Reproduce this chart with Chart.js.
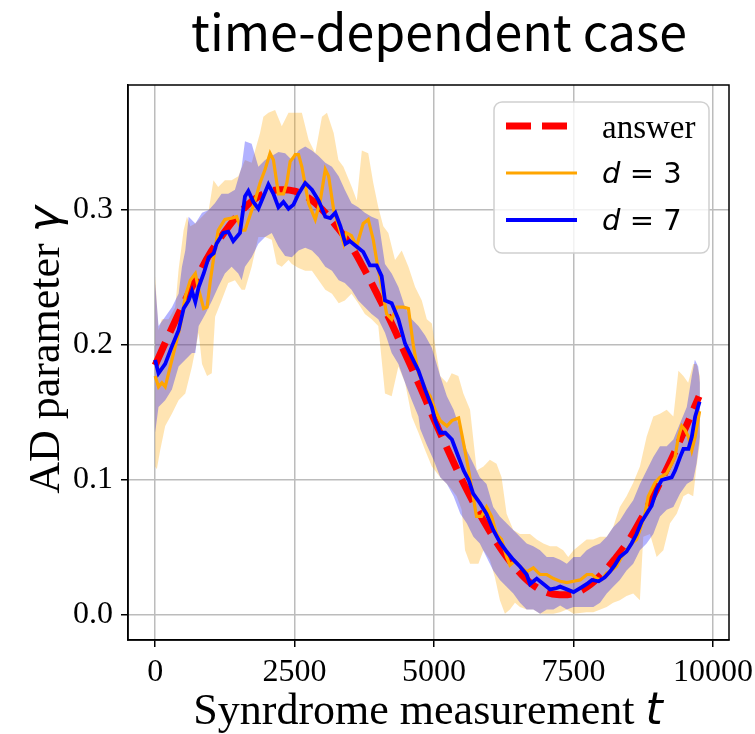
<!DOCTYPE html>
<html lang="en">
<head>
  <meta charset="UTF-8">
  <title>time-dependent case</title>
  <script src="https://cdn.jsdelivr.net/npm/chart.js"></script>
  <style>
    html, body { margin: 0; padding: 0; background: #fff; }
    #wrap { width: 755px; height: 734px; }
  </style>
</head>
<body>
  <div id="wrap"><canvas id="chart" width="755" height="734"></canvas></div>

  <script>
    // ---- data ----
    const xTicks = [0, 2500, 5000, 7500, 10000];
    const yTicks = [0.0, 0.1, 0.2, 0.3];

    // answer (red dashed)
    const tAnswer = [0, 250, 500, 750, 1000, 1250, 1500, 1750, 2000, 2250, 2500, 2750, 3000, 3250, 3500, 3750,
      4000, 4250, 4500, 4750, 5000, 5250, 5500, 5750, 6000, 6250, 6500, 6750, 7000, 7250, 7500, 7750,
      8000, 8250, 8500, 8750, 9000, 9250, 9500, 9750];
    const gAnswer = [0.185, 0.208, 0.230, 0.250, 0.269, 0.284, 0.297, 0.307, 0.313, 0.315, 0.314, 0.309, 0.300, 0.288, 0.274, 0.256,
      0.236, 0.215, 0.192, 0.169, 0.145, 0.122, 0.100, 0.080, 0.062, 0.046, 0.033, 0.023, 0.017, 0.015, 0.016, 0.021,
      0.030, 0.042, 0.056, 0.074, 0.094, 0.115, 0.138, 0.162];

    // d = 3 (orange)
    const tD3 = [0, 60, 120, 180, 270, 360, 450, 540, 630, 720, 780, 870, 930, 990, 1050, 1130, 1250, 1370, 1460, 1550,
      1610, 1700, 1790, 1880, 1970, 2060, 2120, 2210, 2300, 2360, 2420, 2480, 2510, 2570, 2630, 2750, 2870, 2960, 3050, 3110,
      3200, 3290, 3380, 3430, 3520, 3610, 3730, 3820, 3910, 3970, 4060, 4150, 4240, 4330, 4450, 4540, 4630, 4720, 4840, 4930,
      5020, 5110, 5230, 5320, 5440, 5530, 5620, 5700, 5760, 5850, 5940, 6030, 6120, 6210, 6300, 6360, 6450, 6540, 6660, 6780,
      6900, 7020, 7140, 7260, 7380, 7500, 7620, 7740, 7830, 7920, 8000, 8090, 8180, 8270, 8360, 8450, 8540, 8630, 8690, 8780,
      8840, 8900, 8960, 9050, 9170, 9260, 9320, 9380, 9440, 9500, 9560, 9620, 9680, 9760];
    const gD3 = [0.177, 0.169, 0.172, 0.169, 0.184, 0.199, 0.214, 0.236, 0.248, 0.253, 0.241, 0.227, 0.228, 0.248, 0.265, 0.285, 0.293, 0.294, 0.295, 0.285,
      0.285, 0.296, 0.307, 0.320, 0.330, 0.342, 0.337, 0.312, 0.312, 0.320, 0.336, 0.339, 0.341, 0.341, 0.332, 0.305, 0.293, 0.307, 0.330, 0.325,
      0.300, 0.288, 0.275, 0.283, 0.281, 0.273, 0.290, 0.293, 0.278, 0.263, 0.243, 0.223, 0.219, 0.228, 0.228, 0.227, 0.199, 0.179, 0.168, 0.162,
      0.152, 0.144, 0.140, 0.144, 0.146, 0.127, 0.107, 0.088, 0.073, 0.073, 0.080, 0.073, 0.060, 0.056, 0.043, 0.037, 0.040, 0.036, 0.032, 0.035,
      0.030, 0.030, 0.027, 0.025, 0.024, 0.025, 0.026, 0.030, 0.030, 0.027, 0.026, 0.031, 0.033, 0.036, 0.043, 0.048, 0.053, 0.056, 0.063, 0.075,
      0.088, 0.093, 0.098, 0.102, 0.105, 0.112, 0.117, 0.132, 0.140, 0.137, 0.132, 0.122, 0.132, 0.151];

    // d = 7 (blue)
    const tD7 = [0, 60, 180, 300, 420, 510, 600, 660, 720, 780, 870, 960, 1050, 1100, 1220, 1310, 1400, 1520, 1610, 1670,
      1760, 1850, 1940, 2030, 2120, 2210, 2300, 2390, 2480, 2570, 2690, 2810, 2930, 3050, 3140, 3230, 3320, 3410, 3490, 3610,
      3730, 3850, 3970, 4060, 4120, 4240, 4360, 4480, 4600, 4720, 4840, 4960, 5020, 5110, 5200, 5320, 5410, 5530, 5620, 5700,
      5820, 5940, 6060, 6180, 6300, 6420, 6540, 6660, 6720, 6840, 6960, 7080, 7200, 7260, 7380, 7500, 7620, 7740, 7830, 7950,
      8060, 8150, 8240, 8330, 8450, 8540, 8630, 8720, 8810, 8900, 8990, 9080, 9170, 9260, 9320, 9410, 9470, 9560, 9620, 9680, 9760];
    const gD7 = [0.189, 0.179, 0.186, 0.199, 0.211, 0.227, 0.233, 0.240, 0.232, 0.243, 0.253, 0.265, 0.268, 0.275, 0.283, 0.284, 0.277, 0.283, 0.310, 0.314,
      0.306, 0.301, 0.310, 0.319, 0.312, 0.302, 0.306, 0.301, 0.304, 0.312, 0.320, 0.315, 0.307, 0.295, 0.294, 0.298, 0.288, 0.275, 0.277, 0.273,
      0.269, 0.259, 0.259, 0.251, 0.233, 0.231, 0.219, 0.201, 0.191, 0.181, 0.167, 0.154, 0.144, 0.135, 0.135, 0.130, 0.120, 0.107, 0.100, 0.090,
      0.083, 0.075, 0.063, 0.054, 0.047, 0.041, 0.036, 0.030, 0.023, 0.027, 0.023, 0.019, 0.020, 0.021, 0.019, 0.017, 0.020, 0.023, 0.026, 0.025,
      0.028, 0.032, 0.037, 0.043, 0.047, 0.053, 0.060, 0.069, 0.075, 0.081, 0.093, 0.100, 0.101, 0.102, 0.107, 0.117, 0.123, 0.123, 0.132, 0.147, 0.158];

    // d = 3 band (light orange)
    const tD3Hi = [0, 60, 120, 240, 360, 420, 510, 570, 630, 720, 840, 960, 1045, 1130, 1250, 1370, 1490, 1610, 1730, 1880,
      1940, 2030, 2150, 2270, 2390, 2450, 2630, 2750, 2870, 2990, 3080, 3200, 3285, 3375, 3525, 3615, 3705, 3820, 3910, 4000,
      4090, 4180, 4300, 4420, 4540, 4660, 4780, 4870, 4960, 5020, 5110, 5230, 5315, 5435, 5525, 5645, 5765, 5885, 6000, 6120,
      6210, 6300, 6420, 6540, 6720, 6840, 6960, 7080, 7200, 7315, 7405, 7500, 7735, 7855, 7975, 8095, 8210, 8330, 8450, 8570,
      8690, 8810, 8930, 9050, 9170, 9290, 9380, 9470, 9555, 9645, 9705, 9765];
    const gD3Hi = [0.251, 0.211, 0.219, 0.219, 0.228, 0.256, 0.285, 0.295, 0.288, 0.290, 0.295, 0.300, 0.322, 0.317, 0.322, 0.322, 0.325, 0.337, 0.335, 0.357,
      0.369, 0.372, 0.374, 0.362, 0.372, 0.372, 0.372, 0.352, 0.342, 0.369, 0.372, 0.357, 0.337, 0.332, 0.317, 0.307, 0.344, 0.342, 0.320, 0.302,
      0.288, 0.283, 0.263, 0.270, 0.258, 0.243, 0.233, 0.219, 0.216, 0.199, 0.177, 0.172, 0.179, 0.177, 0.164, 0.152, 0.107, 0.110, 0.115, 0.112,
      0.102, 0.075, 0.063, 0.060, 0.060, 0.056, 0.053, 0.051, 0.051, 0.048, 0.043, 0.048, 0.056, 0.056, 0.058, 0.058, 0.065, 0.080, 0.088, 0.098,
      0.110, 0.132, 0.147, 0.149, 0.152, 0.147, 0.181, 0.177, 0.172, 0.186, 0.186, 0.177];
    const tD3Lo = [0, 30, 90, 180, 300, 420, 540, 660, 780, 840, 930, 1015, 1075, 1190, 1310, 1430, 1550, 1610, 1730, 1850,
      1970, 2090, 2180, 2270, 2390, 2450, 2570, 2690, 2810, 2930, 3050, 3170, 3290, 3400, 3520, 3640, 3760, 3880, 4000, 4060,
      4120, 4240, 4360, 4480, 4600, 4720, 4840, 4960, 5110, 5230, 5315, 5405, 5495, 5555, 5645, 5795, 5885, 6000, 6090, 6180,
      6270, 6360, 6450, 6540, 6660, 6780, 6900, 7020, 7140, 7260, 7380, 7500, 7735, 7855, 8095, 8210, 8330, 8450, 8570, 8690,
      8750, 8870, 8990, 9110, 9230, 9350, 9470, 9555, 9645, 9705, 9765];
    const gD3Lo = [0.110, 0.108, 0.122, 0.140, 0.149, 0.159, 0.164, 0.184, 0.209, 0.186, 0.177, 0.179, 0.221, 0.233, 0.246, 0.248, 0.241, 0.241, 0.258, 0.280,
      0.280, 0.278, 0.260, 0.258, 0.263, 0.260, 0.257, 0.255, 0.255, 0.248, 0.241, 0.238, 0.231, 0.233, 0.238, 0.231, 0.223, 0.219, 0.214, 0.189,
      0.164, 0.162, 0.184, 0.172, 0.147, 0.135, 0.122, 0.110, 0.102, 0.097, 0.093, 0.088, 0.078, 0.048, 0.038, 0.038, 0.048, 0.041, 0.028, 0.011,
      0.001, 0.004, 0.009, 0.006, 0.004, 0.004, 0.001, 0.001, 0.001, 0.002, 0.004, 0.001, 0.002, 0.002, 0.006, 0.009, 0.011, 0.014, 0.016, 0.011,
      0.058, 0.060, 0.043, 0.048, 0.068, 0.075, 0.088, 0.090, 0.088, 0.110, 0.127];

    // d = 7 band (light blue)
    const tD7Hi = [0, 60, 180, 300, 420, 480, 540, 600, 720, 840, 960, 1070, 1190, 1310, 1430, 1550, 1610, 1730, 1850, 1970,
      2090, 2210, 2330, 2450, 2570, 2690, 2810, 2930, 3050, 3170, 3290, 3400, 3520, 3640, 3760, 3880, 4000, 4120, 4240, 4360,
      4480, 4600, 4720, 4840, 4960, 5110, 5230, 5350, 5470, 5585, 5705, 5820, 5940, 6060, 6180, 6300, 6420, 6540, 6660, 6780,
      6900, 7020, 7140, 7260, 7380, 7500, 7620, 7735, 7855, 7975, 8095, 8210, 8330, 8450, 8570, 8690, 8810, 8930, 9050, 9170,
      9290, 9410, 9530, 9620, 9675, 9735, 9765];
    const gD7Hi = [0.246, 0.214, 0.221, 0.228, 0.238, 0.258, 0.270, 0.295, 0.290, 0.298, 0.300, 0.305, 0.312, 0.312, 0.315, 0.332, 0.351, 0.349, 0.332, 0.337,
      0.340, 0.343, 0.342, 0.337, 0.344, 0.347, 0.344, 0.340, 0.335, 0.332, 0.325, 0.315, 0.305, 0.302, 0.298, 0.295, 0.293, 0.260, 0.253, 0.243,
      0.228, 0.219, 0.214, 0.207, 0.198, 0.177, 0.162, 0.152, 0.137, 0.122, 0.112, 0.102, 0.097, 0.080, 0.073, 0.068, 0.063, 0.058, 0.053, 0.051,
      0.048, 0.043, 0.043, 0.041, 0.038, 0.043, 0.043, 0.048, 0.051, 0.053, 0.058, 0.065, 0.070, 0.078, 0.085, 0.097, 0.107, 0.117, 0.125, 0.125,
      0.130, 0.142, 0.154, 0.177, 0.189, 0.184, 0.172];
    const tD7Lo = [0, 60, 180, 300, 420, 540, 660, 720, 780, 900, 1020, 1130, 1250, 1370, 1490, 1550, 1610, 1730, 1850, 1970,
      2090, 2210, 2330, 2450, 2570, 2690, 2810, 2930, 3050, 3170, 3290, 3400, 3520, 3640, 3760, 3880, 4000, 4120, 4240, 4360,
      4480, 4600, 4720, 4750, 4870, 4990, 5110, 5230, 5350, 5470, 5585, 5705, 5820, 5940, 6060, 6180, 6300, 6420, 6540, 6660,
      6780, 6900, 7020, 7140, 7260, 7380, 7500, 7620, 7735, 7855, 7975, 8095, 8210, 8330, 8450, 8570, 8690, 8810, 8930, 9050,
      9170, 9290, 9410, 9530, 9645, 9705, 9765];
    const gD7Lo = [0.135, 0.154, 0.159, 0.167, 0.184, 0.189, 0.194, 0.194, 0.214, 0.223, 0.233, 0.243, 0.253, 0.258, 0.253, 0.248, 0.258, 0.265, 0.275, 0.280,
      0.283, 0.273, 0.266, 0.265, 0.270, 0.272, 0.270, 0.265, 0.258, 0.255, 0.248, 0.246, 0.241, 0.233, 0.228, 0.223, 0.219, 0.209, 0.194, 0.186,
      0.172, 0.159, 0.147, 0.138, 0.126, 0.115, 0.102, 0.097, 0.088, 0.075, 0.068, 0.058, 0.053, 0.043, 0.033, 0.026, 0.021, 0.016, 0.009, 0.004,
      0.004, 0.001, 0.004, 0.004, 0.007, 0.004, 0.006, 0.006, 0.006, 0.006, 0.009, 0.016, 0.021, 0.026, 0.033, 0.038, 0.048, 0.053, 0.060, 0.073,
      0.078, 0.080, 0.090, 0.097, 0.100, 0.112, 0.132];

    // ---- helpers ----
    function toPoints(ts, gs) {
      return ts.map((t, i) => ({ x: t, y: gs[i] }));
    }
    // upper edge left->right, then lower edge right->left, filled as one shape
    function bandPoints(tHi, gHi, tLo, gLo) {
      const pts = toPoints(tHi, gHi);
      for (let i = tLo.length - 1; i >= 0; i--) pts.push({ x: tLo[i], y: gLo[i] });
      return pts;
    }

    const SERIF = '"Liberation Serif", "Times New Roman", serif';
    const MATH = '"DejaVu Sans", sans-serif';

    // title, axis labels, top/right spines and legend
    const decorPlugin = {
      id: 'decor',
      afterDatasetsDraw(chart) {
        const ctx = chart.ctx;
        const a = chart.chartArea;
        ctx.save();

        // frame
        ctx.strokeStyle = '#000';
        ctx.lineWidth = 1.5;
        ctx.strokeRect(a.left, a.top, a.right - a.left, a.bottom - a.top);

        // legend box
        const lx = 494, ly = 102, lw = 215, lh = 151;
        ctx.beginPath();
        ctx.roundRect(lx, ly, lw, lh, 8);
        ctx.fillStyle = 'rgba(255,255,255,0.8)';
        ctx.fill();
        ctx.strokeStyle = '#d0d0d0';
        ctx.lineWidth = 1.5;
        ctx.stroke();

        const rows = [
          { y: 126, base: 138, color: 'red', width: 7, dash: [25, 11], label: ['answer'] },
          { y: 173, base: 183, color: 'orange', width: 3.2, dash: [], label: ['d', ' = 3'] },
          { y: 220, base: 230, color: 'blue', width: 3.8, dash: [], label: ['d', ' = 7'] }
        ];
        rows.forEach(r => {
          ctx.beginPath();
          ctx.setLineDash(r.dash);
          ctx.strokeStyle = r.color;
          ctx.lineWidth = r.width;
          ctx.moveTo(506, r.y);
          ctx.lineTo(577, r.y);
          ctx.stroke();
          ctx.setLineDash([]);
          ctx.fillStyle = '#000';
          ctx.textBaseline = 'alphabetic';
          ctx.textAlign = 'left';
          if (r.label.length === 1) {
            ctx.font = '33px ' + SERIF;
            ctx.fillText(r.label[0], 602, r.base);
          } else {
            ctx.font = 'italic 29px ' + MATH;
            ctx.fillText(r.label[0], 602, r.base);
            const w = ctx.measureText(r.label[0]).width;
            ctx.font = '29px ' + MATH;
            ctx.fillText(r.label[1], 602 + w, r.base);
          }
        });

        // title
        ctx.fillStyle = '#000';
        ctx.font = '50px "Noto Sans CJK JP", "Noto Sans", sans-serif';
        ctx.textAlign = 'center';
        ctx.textBaseline = 'alphabetic';
        ctx.fillText('time-dependent case', 439, 51);

        // x axis label
        ctx.textAlign = 'left';
        ctx.font = '44px ' + SERIF;
        const xs = 'Synrdrome measurement ';
        const w1 = ctx.measureText(xs).width;
        ctx.font = 'italic 44px ' + MATH;
        const w2 = ctx.measureText('t').width;
        const x0 = 428 - (w1 + w2) / 2;
        ctx.font = '44px ' + SERIF;
        ctx.fillText(xs, x0, 724);
        ctx.font = 'italic 44px ' + MATH;
        ctx.fillText('t', x0 + w1, 724);

        // y axis label
        ctx.save();
        ctx.translate(59, 350);
        ctx.rotate(-Math.PI / 2);
        ctx.font = '44px ' + SERIF;
        const ys = 'AD parameter ';
        const v1 = ctx.measureText(ys).width;
        ctx.font = 'italic 44px ' + MATH;
        const v2 = ctx.measureText('γ').width;
        const y0 = -(v1 + v2) / 2;
        ctx.font = '44px ' + SERIF;
        ctx.fillText(ys, y0, 0);
        ctx.font = 'italic 44px ' + MATH;
        ctx.fillText('γ', y0 + v1, 0);
        ctx.restore();

        ctx.restore();
      }
    };

    const gridStyle = {
      color: '#bcbcbc',
      lineWidth: 1.5,
      tickColor: '#000',
      tickWidth: 1.5,
      tickLength: 7
    };

    new Chart(document.getElementById('chart'), {
      type: 'line',
      data: {
        datasets: [
          {
            label: 'd = 7',
            data: toPoints(tD7, gD7),
            borderColor: 'blue',
            borderWidth: 3.8,
            pointRadius: 0,
            fill: false,
            order: 0
          },
          {
            label: 'd = 3',
            data: toPoints(tD3, gD3),
            borderColor: 'orange',
            borderWidth: 3.2,
            pointRadius: 0,
            fill: false,
            order: 1
          },
          {
            label: 'answer',
            data: toPoints(tAnswer, gAnswer),
            borderColor: 'red',
            borderWidth: 7,
            borderDash: [25, 11],
            pointRadius: 0,
            tension: 0.4,
            fill: false,
            order: 2
          },
          {
            label: 'd = 7 band',
            data: bandPoints(tD7Hi, gD7Hi, tD7Lo, gD7Lo),
            borderWidth: 0,
            borderColor: 'rgba(0,0,0,0)',
            backgroundColor: 'rgba(0,0,255,0.3)',
            pointRadius: 0,
            fill: 'shape',
            order: 3
          },
          {
            label: 'd = 3 band',
            data: bandPoints(tD3Hi, gD3Hi, tD3Lo, gD3Lo),
            borderWidth: 0,
            borderColor: 'rgba(0,0,0,0)',
            backgroundColor: 'rgba(255,165,0,0.3)',
            pointRadius: 0,
            fill: 'shape',
            order: 4
          }
        ]
      },
      options: {
        responsive: false,
        animation: false,
        events: [],
        layout: { padding: { left: 0, right: 26, top: 85, bottom: 0 } },
        plugins: {
          legend: { display: false },
          title: { display: false },
          tooltip: { enabled: false }
        },
        scales: {
          x: {
            type: 'linear',
            min: -487,
            max: 10287,
            afterBuildTicks: s => { s.ticks = xTicks.map(v => ({ value: v })); },
            afterFit: s => { s.height = 94; s.paddingLeft = 0; s.paddingRight = 0; },
            ticks: {
              autoSkip: false,
              maxRotation: 0,
              color: '#000',
              padding: 6,
              font: { family: SERIF, size: 32 },
              callback: v => String(v)
            },
            grid: gridStyle,
            border: { color: '#000', width: 1.5 }
          },
          y: {
            min: -0.0185,
            max: 0.3926,
            afterBuildTicks: s => { s.ticks = yTicks.map(v => ({ value: v })); },
            afterFit: s => { s.width = 128; s.paddingTop = 0; s.paddingBottom = 0; },
            ticks: {
              autoSkip: false,
              color: '#000',
              padding: 8,
              font: { family: SERIF, size: 32 },
              callback: v => v.toFixed(1)
            },
            grid: gridStyle,
            border: { color: '#000', width: 1.5 }
          }
        }
      },
      plugins: [decorPlugin]
    });
  </script>
</body>
</html>
